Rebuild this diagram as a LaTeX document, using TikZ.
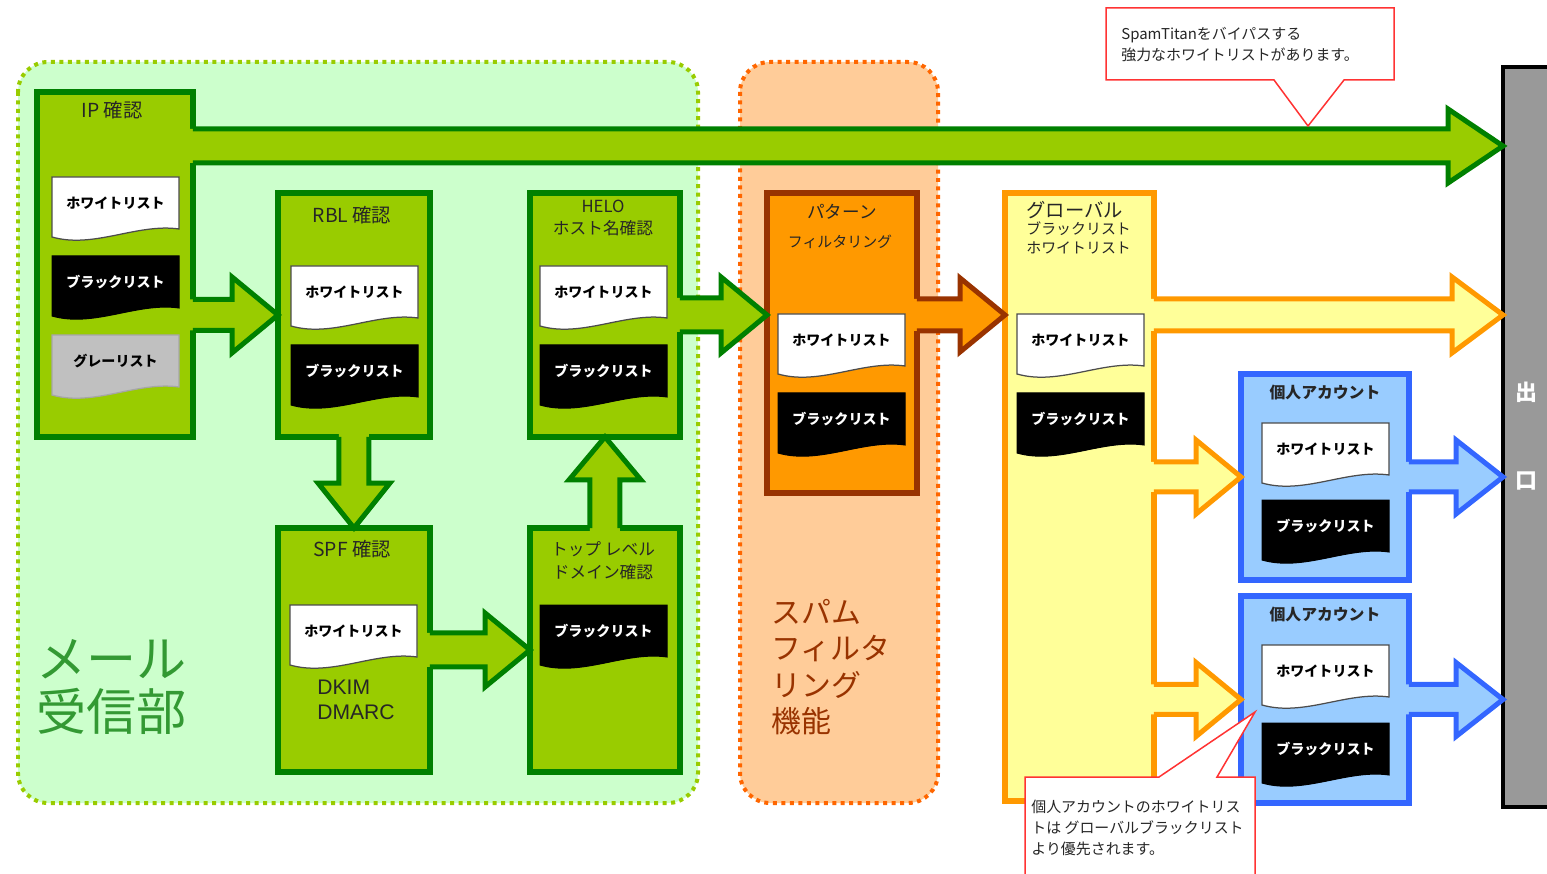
\documentclass[tikz,border=0pt]{standalone}
\usepackage{fontspec}
\setmainfont{Noto Sans CJK JP}
\newfontfamily\latinfont{Liberation Sans}
\usepackage{tikz}
\usetikzlibrary{calc}

\definecolor{mailbg}{RGB}{204, 255, 204}
\definecolor{mailedge}{RGB}{153, 204, 0}
\definecolor{mailgreen}{RGB}{51, 153, 51}
\definecolor{spambg}{RGB}{255, 204, 153}
\definecolor{spamedge}{RGB}{255, 102, 0}
\definecolor{spambrown}{RGB}{153, 51, 0}
\definecolor{boxgreen}{RGB}{153, 204, 0}
\definecolor{darkgreen}{RGB}{0, 128, 0}
\definecolor{patorange}{RGB}{255, 153, 0}
\definecolor{globalfill}{RGB}{255, 255, 153}
\definecolor{acctfill}{RGB}{153, 204, 255}
\definecolor{acctedge}{RGB}{51, 102, 255}
\definecolor{exitgray}{RGB}{153, 153, 153}
\definecolor{listgray}{RGB}{192, 192, 192}
\definecolor{callred}{RGB}{255, 51, 51}

% list sheet with a wavy lower edge: name, top-left corner, sheet style, text colour, label
\newcommand{\listdoc}[5]{%
  \begin{scope}[shift={#2}]
    \filldraw[#3] (0,0) -- (127,0) -- (127,52) .. controls (85,46) and (42,72) .. (0,60) -- cycle;
    \node[doclabel, text=#4] (#1) at (63.5,26) {#5};
  \end{scope}}

% block arrows: style, tail, tip, head length, half shaft, half head
\newcommand{\harrow}[6]{%
  \fill[#1, draw=none] ($(#2 |- #3)+(-3,-#5)$) -- ($(#3)+(-#4,-#5)$) -- ($(#3)+(-#4,-#6)$) -- (#3)
    -- ($(#3)+(-#4,#6)$) -- ($(#3)+(-#4,#5)$) -- ($(#2 |- #3)+(-3,#5)$) -- cycle;
  \draw[#1, fill=none] ($(#2 |- #3)+(0,-#5)$) -- ($(#3)+(-#4,-#5)$) -- ($(#3)+(-#4,-#6)$) -- (#3)
    -- ($(#3)+(-#4,#6)$) -- ($(#3)+(-#4,#5)$) -- ($(#2 |- #3)+(0,#5)$);}
\newcommand{\varrow}[6]{%
  \fill[#1, draw=none] ($(#3 |- #2)+(-#5,{-0.07*(#4)})$) -- ($(#3)+(-#5,{-(#4)})$) -- ($(#3)+(-#6,{-(#4)})$) -- (#3)
    -- ($(#3)+(#6,{-(#4)})$) -- ($(#3)+(#5,{-(#4)})$) -- ($(#3 |- #2)+(#5,{-0.07*(#4)})$) -- cycle;
  \draw[#1, fill=none] ($(#3 |- #2)+(-#5,0)$) -- ($(#3)+(-#5,{-(#4)})$) -- ($(#3)+(-#6,{-(#4)})$) -- (#3)
    -- ($(#3)+(#6,{-(#4)})$) -- ($(#3)+(#5,{-(#4)})$) -- ($(#3 |- #2)+(#5,0)$);}

\begin{document}
\begin{tikzpicture}[
  x=0.02cm, y=-0.02cm,
  region/.style={line width=0.08cm, dash pattern=on 0.08cm off 0.09cm, rounded corners=0.6cm},
  stagebox/.style={draw, line width=0.11cm, anchor=north west, inner sep=0pt, outer sep=0pt},
  greenbox/.style={stagebox, fill=boxgreen, draw=darkgreen},
  orangebox/.style={stagebox, fill=patorange, draw=spambrown},
  yellowbox/.style={stagebox, fill=globalfill, draw=patorange},
  bluebox/.style={stagebox, fill=acctfill, draw=acctedge},
  greenarrow/.style={fill=boxgreen, draw=darkgreen, line width=0.1cm, line join=miter},
  orangearrow/.style={fill=patorange, draw=spambrown, line width=0.1cm, line join=miter},
  yellowarrow/.style={fill=globalfill, draw=patorange, line width=0.1cm, line join=miter},
  bluearrow/.style={fill=acctfill, draw=acctedge, line width=0.1cm, line join=miter},
  whitedoc/.style={fill=white, draw=black!70, line width=0.025cm},
  blackdoc/.style={fill=black, draw=black, line width=0.02cm},
  graydoc/.style={fill=listgray, draw=black!35, line width=0.025cm},
  doclabel/.style={font=\bfseries\fontsize{8}{9}\selectfont, inner sep=0pt},
  boxtitle/.style={font=\fontsize{9.5}{13}\selectfont, text=black!85, align=center, inner sep=0pt},
  notetext/.style={font=\fontsize{8.5}{11.9}\selectfont, text=black!85, align=left, anchor=west, inner sep=0pt}
]
  \useasboundingbox (0,0) rectangle (1547,874);

  % areas
  \draw[region, fill=mailbg, draw=mailedge] (18,62) rectangle (698,803);
  \draw[region, fill=spambg, draw=spamedge] (740,62) rectangle (938,803);
  \node[font=\fontsize{28.5}{30}\selectfont, text=mailgreen, align=left, anchor=west, inner sep=0pt]
    (mailpart) at (36,687) {メール\\受信部};
  \node[font=\fontsize{17}{20.8}\selectfont, text=spambrown, align=left, anchor=west, inner sep=0pt]
    (spamfunc) at (771,667) {スパム\\フィルタ\\リング\\機能};

  % checking stages
  \node[greenbox, minimum width=3.12cm, minimum height=6.9cm] (ip) at (37,92) {};
  \node[greenbox, minimum width=3.04cm, minimum height=4.88cm] (rbl) at (278,193) {};
  \node[greenbox, minimum width=3.0cm, minimum height=4.88cm] (helo) at (530,193) {};
  \node[greenbox, minimum width=3.04cm, minimum height=4.88cm] (spf) at (278,528) {};
  \node[greenbox, minimum width=3.0cm, minimum height=4.88cm] (tld) at (530,528) {};
  \node[orangebox, minimum width=3.0cm, minimum height=6.0cm] (pattern) at (767,193) {};
  \node[yellowbox, minimum width=2.98cm, minimum height=12.16cm] (global) at (1005,193) {};
  \node[bluebox, minimum width=3.36cm, minimum height=4.12cm] (acct1) at (1241,374) {};
  \node[bluebox, minimum width=3.36cm, minimum height=4.14cm] (acct2) at (1241,596) {};
  \node[fill=exitgray, anchor=north west, inner sep=0pt, outer sep=0pt,
    minimum width=0.92cm, minimum height=14.8cm] (exit) at (1503,67) {};
  \draw[line width=0.09cm] (exit.north east) -- (exit.north west) -- (exit.south west) -- (exit.south east);
  \node[font=\bfseries\fontsize{12.5}{14}\selectfont, text=white] (exitA) at (1526,392) {出};
  \node[font=\bfseries\fontsize{12.5}{14}\selectfont, text=white] (exitB) at (1526,481) {口};

  % titles
  \node[boxtitle, font=\fontsize{11}{13}\selectfont] (iptitle) at (112,110) {IP 確認};
  \node[boxtitle, font=\fontsize{11}{13}\selectfont] (rbltitle) at (352,215) {RBL 確認};
  \node[boxtitle] (helotitle) at (603,218) {HELO\\ホスト名確認};
  \node[boxtitle, font=\fontsize{11}{13}\selectfont] (spftitle) at (352,549) {SPF 確認};
  \node[boxtitle] (tldtitle) at (603,561) {トップ レベル\\ドメイン確認};
  \node[boxtitle, font=\fontsize{10}{12}\selectfont] (pattitle) at (842,212) {パターン};
  \node[boxtitle, font=\fontsize{8.5}{10}\selectfont] (patsub) at (840,242) {フィルタリング};
  \node[boxtitle, font=\fontsize{11}{13}\selectfont, anchor=west] (globtitle) at (1026,210) {グローバル};
  \node[boxtitle, font=\fontsize{8.5}{11.3}\selectfont, align=left, anchor=north west]
    (globsub) at (1026,221) {ブラックリスト\\ホワイトリスト};
  \node[boxtitle, font=\bfseries\fontsize{9}{11}\selectfont] (acctAtitle) at (1325,393) {個人アカウント};
  \node[boxtitle, font=\bfseries\fontsize{9}{11}\selectfont] (acctBtitle) at (1325,615) {個人アカウント};
  \node[boxtitle, font=\latinfont\fontsize{12}{14.2}\selectfont, align=left, anchor=west]
    (dkim) at (317,700) {DKIM\\DMARC};

  % lists
  \listdoc{ipwhite}{(52,177)}{whitedoc}{black}{ホワイトリスト}
  \listdoc{ipblack}{(52,256)}{blackdoc}{white}{ブラックリスト}
  \listdoc{ipgray}{(52,335)}{graydoc}{black}{グレーリスト}
  \listdoc{rblwhite}{(291,266)}{whitedoc}{black}{ホワイトリスト}
  \listdoc{rblblack}{(291,345)}{blackdoc}{white}{ブラックリスト}
  \listdoc{helowhite}{(540,266)}{whitedoc}{black}{ホワイトリスト}
  \listdoc{heloblack}{(540,345)}{blackdoc}{white}{ブラックリスト}
  \listdoc{spfwhite}{(290,605)}{whitedoc}{black}{ホワイトリスト}
  \listdoc{tldblack}{(540,605)}{blackdoc}{white}{ブラックリスト}
  \listdoc{patwhite}{(778,314)}{whitedoc}{black}{ホワイトリスト}
  \listdoc{patblack}{(778,393)}{blackdoc}{white}{ブラックリスト}
  \listdoc{globwhite}{(1017,314)}{whitedoc}{black}{ホワイトリスト}
  \listdoc{globblack}{(1017,393)}{blackdoc}{white}{ブラックリスト}
  \listdoc{acctAwhite}{(1262,423)}{whitedoc}{black}{ホワイトリスト}
  \listdoc{acctAblack}{(1262,500)}{blackdoc}{white}{ブラックリスト}
  \listdoc{acctBwhite}{(1262,645)}{whitedoc}{black}{ホワイトリスト}
  \listdoc{acctBblack}{(1262,723)}{blackdoc}{white}{ブラックリスト}

  % flow
  \coordinate (bypassend) at (1503,146);
  \coordinate (patternin) at (pattern.west |- helo.east);
  \coordinate (globalin) at (global.west |- helo.east);
  \coordinate (globalout) at (exit.west |- helo.east);
  \coordinate (acctAout) at (exit.west |- acct1.east);
  \coordinate (acctBout) at (exit.west |- acct2.east);
  \harrow{greenarrow}{ip.east}{bypassend}{55}{17}{37}
  \harrow{greenarrow}{ip.east}{rbl.west}{46}{15.5}{38}
  \varrow{greenarrow}{rbl.south}{spf.north}{45}{15}{36}
  \harrow{greenarrow}{spf.east}{tld.west}{45}{17}{37}
  \varrow{greenarrow}{tld.north}{helo.south}{-43}{15}{36}
  \harrow{greenarrow}{helo.east}{patternin}{46}{17}{38}
  \harrow{orangearrow}{pattern.east}{globalin}{45}{16}{37}
  \harrow{yellowarrow}{global.east}{globalout}{51}{16}{38}
  \harrow{yellowarrow}{global.east}{acct1.west}{45}{15}{37}
  \harrow{yellowarrow}{global.east}{acct2.west}{45}{15}{37}
  \harrow{bluearrow}{acct1.east}{acctAout}{47}{15}{37}
  \harrow{bluearrow}{acct2.east}{acctBout}{47}{15}{37}

  % notes
  \filldraw[fill=white, draw=callred, line width=0.03cm]
    (1106,8) -- (1394,8) -- (1394,80) -- (1344,80) -- (1308,126) -- (1274,80) -- (1106,80) -- cycle;
  \node[notetext] (bypassnote) at (1121,45) {SpamTitanをバイパスする\\強力なホワイトリストがあります。};
  \fill[white] (1025,874) -- (1025,777) -- (1159,777) -- (1255,712) -- (1217,777) -- (1255,777) -- (1255,874) -- cycle;
  \draw[callred, line width=0.03cm]
    (1025,874) -- (1025,777) -- (1159,777) -- (1255,712) -- (1217,777) -- (1255,777) -- (1255,874);
  \node[notetext] (prioritynote) at (1031,828) {個人アカウントのホワイトリス\\トは グローバルブラックリスト\\より優先されます。};
\end{tikzpicture}
\end{document}
